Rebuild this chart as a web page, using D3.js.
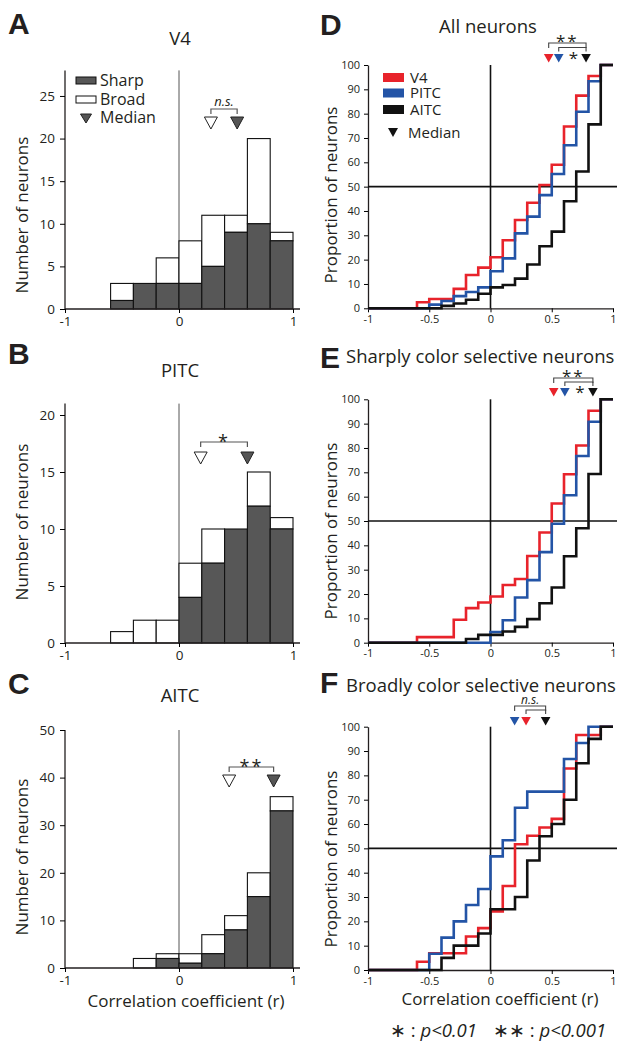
<!DOCTYPE html>
<html>
<head>
<meta charset="utf-8">
<script src="https://cdn.jsdelivr.net/npm/d3@7/dist/d3.min.js"></script>
<style>
body{margin:0;background:#fff;}
text{font-family:"Open Sans",sans-serif;fill:#231f20;}
</style>
</head>
<body>
<script>
const w = 617;
const h = 1043;

// histograms: bin left edges (width 0.2), counts per area
const binStarts = [-1,-0.8,-0.6,-0.4,-0.2,0,0.2,0.4,0.6,0.8];
const v4Sharp   = [0,0,1,3,3,3,5,9,10,8];
const v4Broad   = [0,0,2,0,3,5,6,2,10,1];
const pitcSharp = [0,0,0,0,0,4,7,10,12,10];
const pitcBroad = [0,0,1,2,2,3,3,0,3,1];
const aitcSharp = [0,0,0,0,2,1,3,8,15,33];
const aitcBroad = [0,0,0,2,1,2,4,3,5,3];
const histTitles = ["V4","PITC","AITC"];
const histMedSharp = [0.51,0.6,0.83];
const histMedBroad = [0.28,0.19,0.44];
const histSig = ["n.s.","*","**"];
const histTicks = [[0,5,10,15,20,25],[0,5,10,15,20],[0,10,20,30,40,50]];
const histMax = [28,21,50];

// cumulative proportion (%) on steps of 0.1 starting at x
const cdfX = [-1,-0.9,-0.8,-0.7,-0.6,-0.5,-0.4,-0.3,-0.2,-0.1,0,0.1,0.2,0.3,0.4,0.5,0.6,0.7,0.8,0.9];
const allV4     = [0,0,0,0,2.5,3.8,3.8,8,13.7,16.7,21,28,36.3,43.4,50.7,59,74.7,87.4,95.5,100];
const allPITC   = [0,0,0,0,0,1.5,3,5,6.7,8.6,15.2,20.5,30.8,37.7,46.5,55.2,67,80.8,93.3,100];
const allAITC   = [0,0,0,0,0,0,1,2,3.5,6,8.6,9.6,12.2,18,25.5,31.5,44,56.2,75.6,100];
const sharpV4   = [0,0,0,0,2.3,2.3,2.3,9.4,14.2,16.5,19,23.7,26.2,35.6,45.3,57.2,69.2,81,95.3,100];
const sharpPITC = [0,0,0,0,0,0,0,0,0,0,4.4,9.2,18.6,25.7,37.2,48.9,60.6,76.7,90.8,100];
const sharpAITC = [0,0,0,0,0,0,0,0,1.5,3.2,3.2,4.6,6.5,9.7,16.2,22.7,35.5,47,69.3,100];
const broadV4   = [0,0,0,0,3.4,6.9,6.9,6.9,13.8,17.2,24.1,34.5,51.7,55.2,58.6,62.1,82.8,96.6,96.6,100];
const broadPITC = [0,0,0,0,0,6.7,13.3,20,26.7,33.3,46.7,53.3,66.7,73.3,73.3,73.3,86.7,93.3,100,100];
const broadAITC = [0,0,0,0,0,0,5,10,10,15,25,25,30,45,55,60,70,85,95,100];
const cdfTitles = ["All neurons","Sharply color selective neurons","Broadly color selective neurons"];
const areas = ["V4","PITC","AITC"];
const areaColors = ["#e8232b","#2354a6","#111111"];
// medians in order V4, PITC, AITC
const cdfMedians = [[0.475,0.557,0.78],[0.516,0.607,0.836],[0.29,0.197,0.45]];

const svg = d3.select("body").append("svg")
  .attr("width", w)
  .attr("height", h);

const tri = (x, top, s, hh) => `M${x-s},${top}L${x+s},${top}L${x},${top+hh}Z`;
const bracket = (x1, x2, yb, d) => `M${x1},${yb+d}V${yb}H${x2}V${yb+d}`;
const fmt = d => String(d);

function letter(t, x, y){
  svg.append("text").attr("x",x).attr("y",y).text(t)
    .style("font-family","'Liberation Sans',Arial,sans-serif")
    .style("font-weight","bold").style("font-size","30px");
}

// ---------- left: histograms ----------
const xL = d3.scaleLinear().domain([-1,1]).range([65,293]);
const histLayout = [
  {bottom:309, top:70.4, letter:"A", ly:34, ty:45, labY:215, triTop:117, brY:109},
  {bottom:643, top:403.6, letter:"B", ly:364, ty:377, labY:522, triTop:452, brY:442},
  {bottom:968, top:730, letter:"C", ly:694, ty:702, labY:857, triTop:775, brY:767}
];
const histSharp = [v4Sharp,pitcSharp,aitcSharp];
const histBroad = [v4Broad,pitcBroad,aitcBroad];

histLayout.forEach((L,k)=>{
  const y = d3.scaleLinear().domain([0,histMax[k]]).range([L.bottom,L.top]);
  const g = svg.append("g");

  letter(L.letter, 8, L.ly);
  g.append("text").attr("x",180).attr("y",L.ty).attr("text-anchor","middle")
    .style("font-size","18.5px").text(histTitles[k]);

  // zero line
  g.append("line").attr("x1",xL(0)).attr("x2",xL(0)).attr("y1",L.top).attr("y2",L.bottom)
    .attr("stroke","#555").attr("stroke-width",1);

  const bars = binStarts.map((b,i)=>({x:b, s:histSharp[k][i], b:histBroad[k][i]}));
  g.selectAll(".broad").data(bars).enter().append("rect")
    .attr("x",d=>xL(d.x)).attr("width",d=>xL(d.x+0.2)-xL(d.x))
    .attr("y",d=>y(d.s+d.b)).attr("height",d=>y(d.s)-y(d.s+d.b))
    .attr("fill","#fff").attr("stroke","#111").attr("stroke-width",1.1);
  g.selectAll(".sharp").data(bars).enter().append("rect")
    .attr("x",d=>xL(d.x)).attr("width",d=>xL(d.x+0.2)-xL(d.x))
    .attr("y",d=>y(d.s)).attr("height",d=>y(0)-y(d.s))
    .attr("fill","#575757").attr("stroke","#111").attr("stroke-width",1.1);

  const yAxis = d3.axisLeft(y).tickValues(histTicks[k]).tickSize(5).tickSizeOuter(0).tickPadding(5);
  const ya = g.append("g").attr("transform",`translate(${xL(-1)},0)`).call(yAxis);
  ya.selectAll("text").style("font-size","13.5px").style("font-family","'Open Sans',sans-serif").attr("fill","#231f20");
  ya.select(".domain").attr("stroke","#231f20").attr("stroke-width",1.3).attr("d",`M0,${L.bottom}V${L.top}`);

  const xAxis = d3.axisBottom(xL).tickValues([-1,0,1]).tickFormat(fmt).tickSize(4).tickSizeOuter(0).tickPadding(3);
  const xa = g.append("g").attr("transform",`translate(0,${L.bottom})`).call(xAxis);
  xa.selectAll("text").style("font-size","13.5px").style("font-family","'Open Sans',sans-serif").attr("fill","#231f20");
  xa.select(".domain").attr("stroke","#231f20").attr("stroke-width",1.3).attr("d",`M${xL(-1)},0H300`);

  g.append("text").attr("transform",`translate(28,${L.labY}) rotate(-90)`)
    .attr("text-anchor","middle").style("font-size","17px").text("Number of neurons");

  // medians
  const xb = xL(histMedBroad[k]), xs = xL(histMedSharp[k]);
  g.append("path").attr("d",tri(xb,L.triTop,6.5,12)).attr("fill","#fff").attr("stroke","#222").attr("stroke-width",1);
  g.append("path").attr("d",tri(xs,L.triTop,6.5,12)).attr("fill","#555").attr("stroke","#222").attr("stroke-width",1);
  g.append("path").attr("d",bracket(xb,xs,L.brY,5)).attr("fill","none").attr("stroke","#555").attr("stroke-width",1.2);
  const sig = g.append("text").attr("x",(xb+xs)/2).attr("y",L.brY-3).attr("text-anchor","middle").text(histSig[k]);
  if(histSig[k]==="n.s.") sig.style("font-style","italic").style("font-size","13px");
  else sig.style("font-size","18px").style("letter-spacing","2px").attr("y",L.brY+6);
});

// legend A
svg.append("rect").attr("x",76).attr("y",77).attr("width",20).attr("height",7).attr("fill","#575757").attr("stroke","#111");
svg.append("rect").attr("x",76).attr("y",96).attr("width",20).attr("height",7).attr("fill","#fff").attr("stroke","#111");
svg.append("path").attr("d",tri(86,114,5.5,9)).attr("fill","#555").attr("stroke","#222");
[["Sharp",86],["Broad",105],["Median",123]].forEach(d=>{
  svg.append("text").attr("x",100).attr("y",d[1]).style("font-size","16px").text(d[0]);
});

// C x label
svg.append("text").attr("x",186).attr("y",1007).attr("text-anchor","middle")
  .style("font-size","17px").text("Correlation coefficient (r)");

// ---------- right: cumulative plots ----------
const xR = d3.scaleLinear().domain([-1,1]).range([368,613]);
const cdfLayout = [
  {bottom:308.3, top:65, letter:"D", ly:35, lx:320, tx:488, ty:33, anchor:"middle", labY:195,
   triTop:54, outerY:43, innerY:47.5, outer:[0,2], inner:[1,2], sigOuter:"**", sigInner:"*"},
  {bottom:642.7, top:399.3, letter:"E", ly:368, lx:320, tx:346, ty:363, anchor:"start", labY:531,
   triTop:388, outerY:378, innerY:382, outer:[0,2], inner:[1,2], sigOuter:"**", sigInner:"*"},
  {bottom:970, top:726.7, letter:"F", ly:693, lx:320, tx:346, ty:692, anchor:"start", labY:859,
   triTop:717, outerY:706, innerY:710, outer:[1,2], inner:[0,2], sigOuter:"n.s.", sigInner:""}
];
const cdfSeries = [[allV4,allPITC,allAITC],[sharpV4,sharpPITC,sharpAITC],[broadV4,broadPITC,broadAITC]];

cdfLayout.forEach((L,k)=>{
  const y = d3.scaleLinear().domain([0,100]).range([L.bottom,L.top]);
  const g = svg.append("g");

  letter(L.letter, L.lx, L.ly);
  g.append("text").attr("x",L.tx).attr("y",L.ty).attr("text-anchor",L.anchor)
    .style("font-size","18.5px").text(cdfTitles[k]);

  const yAxis = d3.axisLeft(y).tickValues([0,10,20,30,40,50,60,70,80,90,100]).tickSize(4).tickSizeOuter(0).tickPadding(4);
  const ya = g.append("g").attr("transform",`translate(${xR(-1)},0)`).call(yAxis);
  ya.selectAll("text").style("font-size","11px").style("font-family","'Open Sans',sans-serif").attr("fill","#231f20");
  ya.select(".domain").attr("stroke","#231f20").attr("stroke-width",1.3);

  const xAxis = d3.axisBottom(xR).tickValues([-1,-0.5,0,0.5,1]).tickFormat(fmt).tickSize(4).tickSizeOuter(0).tickPadding(3);
  const xa = g.append("g").attr("transform",`translate(0,${L.bottom})`).call(xAxis);
  xa.selectAll("text").style("font-size","11px").style("font-family","'Open Sans',sans-serif").attr("fill","#231f20");
  xa.select(".domain").attr("stroke","#231f20").attr("stroke-width",1.3);

  g.append("text").attr("transform",`translate(337,${L.labY}) rotate(-90)`)
    .attr("text-anchor","middle").style("font-size","17px").text("Proportion of neurons");

  // reference lines
  g.append("line").attr("x1",xR(-1)).attr("x2",w).attr("y1",y(50)).attr("y2",y(50))
    .attr("stroke","#111").attr("stroke-width",1.6);
  g.append("line").attr("x1",xR(0)).attr("x2",xR(0)).attr("y1",y(100)).attr("y2",y(0))
    .attr("stroke","#111").attr("stroke-width",1.6);

  const line = d3.line().x(d=>xR(d[0])).y(d=>y(d[1])).curve(d3.curveStepAfter);
  cdfSeries[k].forEach((vals,j)=>{
    const pts = cdfX.map((xv,i)=>[xv,vals[i]]);
    pts.push([1,vals[vals.length-1]]);
    g.append("path").datum(pts).attr("d",line).attr("fill","none")
      .attr("stroke",areaColors[j]).attr("stroke-width",2.6).attr("stroke-linejoin","miter");
  });

  // medians
  const mx = cdfMedians[k].map(v=>xR(v));
  cdfMedians[k].forEach((v,j)=>{
    g.append("path").attr("d",tri(mx[j],L.triTop,4.8,8.5)).attr("fill",areaColors[j]);
  });
  g.append("path").attr("d",bracket(mx[L.outer[0]],mx[L.outer[1]],L.outerY,5)).attr("fill","none").attr("stroke","#444").attr("stroke-width",1.1);
  g.append("path").attr("d",bracket(mx[L.inner[0]],mx[L.inner[1]],L.innerY,4)).attr("fill","none").attr("stroke","#444").attr("stroke-width",1.1);
  const so = g.append("text").attr("x",(mx[L.outer[0]]+mx[L.outer[1]])/2).attr("text-anchor","middle").text(L.sigOuter);
  if(L.sigOuter==="n.s.") so.attr("y",L.outerY-2).style("font-style","italic").style("font-size","12px");
  else so.attr("y",L.outerY+4).style("font-size","17px").style("letter-spacing","2px");
  if(L.sigInner){
    g.append("text").attr("x",(mx[L.inner[0]]+mx[L.inner[1]])/2+1).attr("y",L.innerY+16)
      .attr("text-anchor","middle").style("font-size","17px").text(L.sigInner);
  }
});

// legend D
const legY = [73,88.5,105];
areas.forEach((a,j)=>{
  svg.append("rect").attr("x",383).attr("y",legY[j]).attr("width",21).attr("height",9).attr("fill",areaColors[j]);
  svg.append("text").attr("x",410).attr("y",legY[j]+9.5).style("font-size","15px").text(a);
});
svg.append("path").attr("d",tri(393,128,5,9)).attr("fill","#111");
svg.append("text").attr("x",408).attr("y",137.5).style("font-size","15px").text("Median");

// F x label
svg.append("text").attr("x",500).attr("y",1005).attr("text-anchor","middle")
  .style("font-size","17px").text("Correlation coefficient (r)");

// footnote
const fn = svg.append("text").attr("x",390).attr("y",1037).style("font-size","18.5px");
fn.append("tspan").text("∗ : ");
fn.append("tspan").style("font-style","italic").text("p<0.01");
fn.append("tspan").attr("dx",16).text("∗∗ : ");
fn.append("tspan").style("font-style","italic").text("p<0.001");
</script>
</body>
</html>
